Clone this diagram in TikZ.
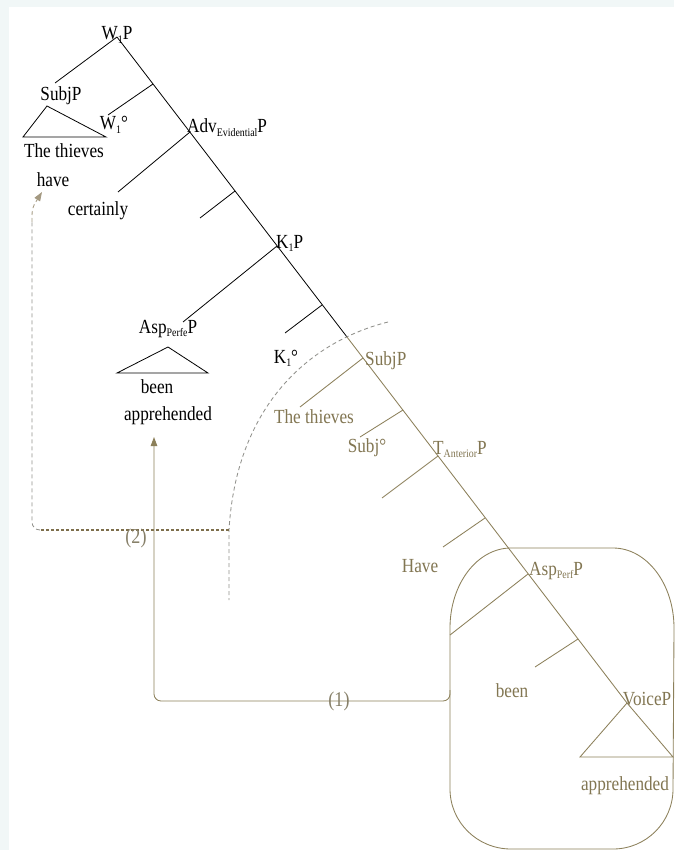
\documentclass[tikz,border=0pt]{standalone}
\usepackage{fontspec}
\setmainfont[FakeStretch=0.86]{Liberation Serif}
\usetikzlibrary{arrows.meta}
\definecolor{oliveline}{RGB}{140,128,90}
\definecolor{olivetxt}{RGB}{130,118,82}
\definecolor{arcgrey}{RGB}{145,145,140}
\definecolor{dashdark}{RGB}{125,110,75}
\definecolor{labgrey}{RGB}{135,128,105}
\definecolor{bgframe}{RGB}{241,247,247}
\newcommand\sbs[1]{\raisebox{-0.18em}{\fontsize{11.5}{12}\selectfont #1}}
\begin{document}
\begin{tikzpicture}[x=1pt,y=-1pt,
  lbl/.style={font=\fontsize{20}{22}\selectfont, inner sep=0pt, anchor=base, text=black},
  lblw/.style={lbl, anchor=base west},
  olbl/.style={lbl, text=olivetxt},
  olblw/.style={olbl, anchor=base west},
  blk/.style={draw=black, line width=0.8pt},
  olv/.style={draw=oliveline, line width=0.85pt},
  arcdash/.style={draw=arcgrey, line width=0.85pt, dash pattern=on 4pt off 3pt},
  densedash/.style={draw=dashdark, line width=1.1pt, dash pattern=on 3pt off 2pt},
  tip/.style={-{Triangle[length=9pt,width=6.5pt]}},
  numlbl/.style={font=\fontsize{21}{24}\selectfont, inner sep=0pt, text=labgrey}
]
\fill[bgframe] (0,0) rectangle (674,850);
\fill[white] (9,7) rectangle (674,850);
\useasboundingbox (0,0) rectangle (674,850);

% spine junctions
\coordinate (j0) at (117,37);
\coordinate (j1) at (153,84);
\coordinate (j2) at (190,132);
\coordinate (j3) at (235,191);
\coordinate (j4) at (277,246);
\coordinate (j5) at (322,305);
\coordinate (jc) at (347,337);
\coordinate (j6) at (363,358);
\coordinate (j7) at (403,410);
\coordinate (j8) at (438,456);
\coordinate (j9) at (485,518);
\coordinate (j10) at (528,574);
\coordinate (j11) at (578,639);
\coordinate (j12) at (627,703);
% branch ends
\coordinate (b0) at (55,83);
\coordinate (b1) at (108,115);
\coordinate (b2) at (118,192);
\coordinate (b3) at (200,218);
\coordinate (b4) at (183,322);
\coordinate (b5) at (285,333);
\coordinate (b6) at (300,407);
\coordinate (b7) at (360,437);
\coordinate (b8) at (382,498);
\coordinate (b9) at (443,547);
\coordinate (b10) at (450,635);
\coordinate (b11) at (535,667);
% triangles
\coordinate (t1a) at (47,106);
\coordinate (t1l) at (23,137);
\coordinate (t1r) at (106,137);
\coordinate (t2a) at (168,347);
\coordinate (t2l) at (117,373);
\coordinate (t2r) at (208,373);
\coordinate (t3l) at (580,757);
\coordinate (t3r) at (673,757);

% black part of tree
\draw[blk] (j0) -- (jc);
\draw[blk] (j0) -- (b0);
\draw[blk] (j1) -- (b1);
\draw[blk] (j2) -- (b2);
\draw[blk] (j3) -- (b3);
\draw[blk] (j4) -- (b4);
\draw[blk] (j5) -- (b5);
\draw[blk] (t1a) -- (t1l) -- (t1r) -- cycle;
\draw[blk] (t2a) -- (t2l) -- (t2r) -- cycle;

% olive part of tree
\draw[olv] (jc) -- (j12);
\draw[olv] (j6) -- (b6);
\draw[olv] (j7) -- (b7);
\draw[olv] (j8) -- (b8);
\draw[olv] (j9) -- (b9);
\draw[olv] (j10) -- (b10);
\draw[olv] (j11) -- (b11);
\draw[olv] (j12) -- (t3l) -- (t3r) -- cycle;

% rounded box
\draw[olv] (511,548) -- (613,548)
  arc[start angle=-90, end angle=0, x radius=61, y radius=80]
  -- (673,789)
  arc[start angle=0, end angle=90, x radius=60, y radius=60]
  -- (511,849)
  arc[start angle=90, end angle=180, x radius=61, y radius=60]
  -- (450,628)
  arc[start angle=180, end angle=270, x radius=61, y radius=80];

% labels black
\node[lbl] (w1p) at (117,40) {W\sbs{1}P};
\node[lbl] (subjp1) at (61,101) {SubjP};
\node[lbl] (w1deg) at (114,130) {W\sbs{1}°};
\node[lblw] (adv) at (187,133) {Adv\sbs{Evidential}P};
\node[lbl] (thieves1) at (64,158) {The thieves};
\node[lbl] (have1) at (53,187) {have};
\node[lbl] (certainly) at (98,215) {certainly};
\node[lblw] (k1p) at (276,248) {K\sbs{1}P};
\node[lbl] (aspperfe) at (168,333) {Asp\sbs{Perfe}P};
\node[lbl] (been1) at (157,393) {been};
\node[lbl] (appr1) at (168,420) {apprehended};
\node[lbl] (k1deg) at (286,363) {K\sbs{1}°};

% labels olive
\node[olblw] (subjp2) at (365,365) {SubjP};
\node[olbl] (thieves2) at (314,423) {The thieves};
\node[olbl] (subjdeg) at (367,452) {Subj°};
\node[olblw] (tant) at (433,454) {T\sbs{Anterior}P};
\node[olbl] (have2) at (420,572) {Have};
\node[olblw] (aspperf) at (529,575) {Asp\sbs{Perf}P};
\node[olbl] (been2) at (512,697) {been};
\node[olbl] (voicep) at (647,705) {VoiceP};
\node[olbl] (appr2) at (625,790) {apprehended};

% dashed arc
\coordinate (arctop) at (388,322);
\coordinate (arcjoin) at (229,530);
\coordinate (arcend) at (229,600);
\draw[arcdash] (arctop) .. controls (305,343) and (236,410) .. (arcjoin) -- (arcend);

% movement (2)
\coordinate (m2corner) at (40,530);
\coordinate (m2tip) at (42,192);
\draw[densedash] (arcjoin) -- (m2corner);
\draw[arcdash, rounded corners=8pt] (m2corner) -- (32,530) -- (32,222);
\draw[arcdash, draw=dashdark!70, tip] (32,222) .. controls (32,208) .. (m2tip);
\node[numlbl] (lab2) at (136,538) {(2)};

% movement (1)
\coordinate (m1start) at (450,690);
\coordinate (m1tip) at (154,437);
\draw[olv, rounded corners=7pt, tip] (m1start) |- (154,701) -- (m1tip);
\node[numlbl] (lab1) at (339,701) {(1)};
\end{tikzpicture}
\end{document}
